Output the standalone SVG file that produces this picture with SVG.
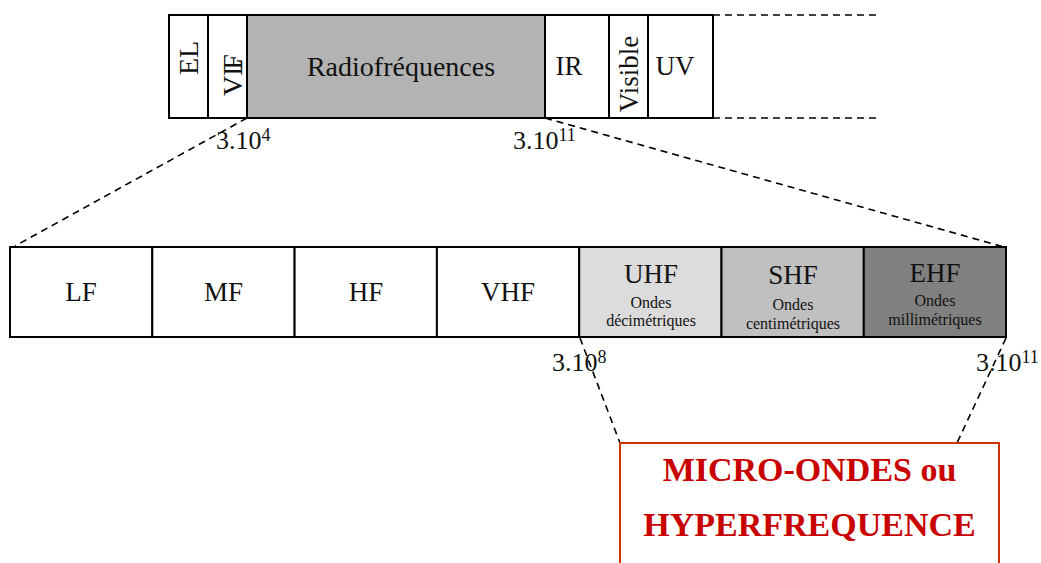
<svg xmlns="http://www.w3.org/2000/svg" width="1041" height="563" viewBox="0 0 1041 563">
<style>
.box{stroke:#000;stroke-width:2}
.t{font-family:"Liberation Serif",serif;fill:#111}
.big{font-size:27px}
.sm{font-size:16px}
.lbl{font-size:26px}
.sup{font-size:18px}
.dash{stroke:#000;stroke-width:1.6;stroke-dasharray:7 5;fill:none}
.red{font-family:"Liberation Serif",serif;font-weight:bold;font-size:34px;fill:#c80000}
</style>
<rect width="1041" height="563" fill="#fff"/>
<g id="connectors">
<line class="dash" x1="713" y1="15" x2="880" y2="15"/>
<line class="dash" x1="713" y1="118" x2="880" y2="118"/>
<line class="dash" x1="247" y1="118" x2="15" y2="246"/>
<line class="dash" x1="545" y1="118" x2="1004" y2="247"/>
<line class="dash" x1="580" y1="338" x2="620" y2="443"/>
<line class="dash" x1="1006" y1="338" x2="957" y2="443"/>
</g>
<g id="top-EL"><rect class="box" x="169" y="15" width="39" height="103" fill="#fff"/><text class="t" font-size="28" transform="translate(198,58) rotate(-90)" text-anchor="middle">EL</text></g>
<g id="top-VLF"><rect class="box" x="208" y="15" width="39" height="103" fill="#fff"/><text class="t" font-size="28" transform="translate(242,96) rotate(-90)">VL<tspan dx="-11">F</tspan></text></g>
<g id="top-radio"><rect class="box" x="247" y="15" width="298" height="103" fill="#b3b3b3"/><text class="t" font-size="28" x="401" y="76" text-anchor="middle">Radiofréquences</text></g>
<g id="top-IR"><rect class="box" x="545" y="15" width="64" height="103" fill="#fff"/><text class="t big" x="569" y="75" text-anchor="middle">IR</text></g>
<g id="top-visible"><rect class="box" x="609" y="15" width="39" height="103" fill="#fff"/><text class="t" font-size="27" transform="translate(638,74) rotate(-90)" text-anchor="middle">Visible</text></g>
<g id="top-UV"><rect class="box" x="648" y="15" width="65" height="103" fill="#fff"/><text class="t big" x="675" y="75" text-anchor="middle">UV</text></g>
<g id="label-3e4"><text class="t lbl" x="216" y="149">3.10<tspan class="sup" dy="-8">4</tspan></text></g>
<g id="label-3e11-top"><text class="t lbl" x="513" y="149">3.10<tspan class="sup" dy="-8">11</tspan></text></g>
<g id="LF"><rect class="box" x="10" y="247" width="142.3" height="90" fill="#fff"/><text class="t big" x="81" y="301" text-anchor="middle">LF</text></g>
<g id="MF"><rect class="box" x="152.3" y="247" width="142.3" height="90" fill="#fff"/><text class="t big" x="223.5" y="301" text-anchor="middle">MF</text></g>
<g id="HF"><rect class="box" x="294.6" y="247" width="142.3" height="90" fill="#fff"/><text class="t big" x="366" y="301" text-anchor="middle">HF</text></g>
<g id="VHF"><rect class="box" x="436.9" y="247" width="142.3" height="90" fill="#fff"/><text class="t big" x="508" y="301" text-anchor="middle">VHF</text></g>
<g id="UHF"><rect class="box" x="579.2" y="247" width="142.3" height="90" fill="#dcdcdc"/><text class="t big" x="651" y="283" text-anchor="middle">UHF</text><text class="t sm" x="651" y="308" text-anchor="middle">Ondes</text><text class="t sm" x="651" y="326" text-anchor="middle">décimétriques</text></g>
<g id="SHF"><rect class="box" x="721.5" y="247" width="142.3" height="90" fill="#c0c0c0"/><text class="t big" x="793" y="284" text-anchor="middle">SHF</text><text class="t sm" x="793" y="310" text-anchor="middle">Ondes</text><text class="t sm" x="793" y="329" text-anchor="middle">centimétriques</text></g>
<g id="EHF"><rect class="box" x="863.8" y="247" width="142.2" height="90" fill="#808080"/><text class="t big" x="935" y="282" text-anchor="middle">EHF</text><text class="t sm" x="935" y="306" text-anchor="middle">Ondes</text><text class="t sm" x="935" y="325" text-anchor="middle">millimétriques</text></g>
<g id="label-3e8"><text class="t lbl" x="552" y="371">3.10<tspan class="sup" dy="-8">8</tspan></text></g>
<g id="label-3e11-bottom"><text class="t lbl" x="976" y="371">3.10<tspan class="sup" dy="-8">11</tspan></text></g>
<g id="micro-ondes"><rect x="620" y="443" width="379" height="140" fill="none" stroke="#cc3300" stroke-width="2"/><text class="red" x="809.5" y="481" text-anchor="middle">MICRO-ONDES ou</text><text class="red" x="809.5" y="536" text-anchor="middle">HYPERFREQUENCE</text></g>
</svg>
